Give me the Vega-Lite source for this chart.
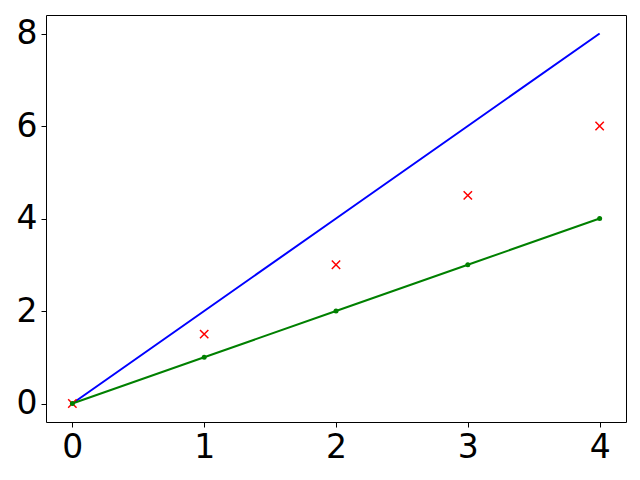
{
  "$schema": "https://vega.github.io/schema/vega-lite/v6.json",
  "width": 580,
  "height": 407,
  "autosize": {"type": "none"},
  "padding": {"left": 46, "top": 15, "right": 14, "bottom": 58},
  "background": "white",
  "config": {
    "view": {"stroke": "black", "strokeWidth": 1},
    "axis": {
      "grid": false,
      "domain": false,
      "tickColor": "black",
      "tickSize": 5,
      "tickWidth": 1,
      "labelColor": "black",
      "labelFont": "DejaVu Sans",
      "labelFontSize": 33,
      "labelPadding": 4,
      "title": null
    }
  },
  "data": {
    "values": [
      {"x": 0, "blue": 0, "red": 0, "green": 0},
      {"x": 1, "blue": 2, "red": 1.5, "green": 1},
      {"x": 2, "blue": 4, "red": 3, "green": 2},
      {"x": 3, "blue": 6, "red": 4.5, "green": 3},
      {"x": 4, "blue": 8, "red": 6, "green": 4}
    ]
  },
  "encoding": {
    "x": {
      "field": "x",
      "type": "quantitative",
      "scale": {"domain": [-0.2, 4.2], "nice": false, "zero": false},
      "axis": {"values": [0, 1, 2, 3, 4], "labelFlush": false}
    }
  },
  "layer": [
    {
      "mark": {"type": "line", "color": "blue", "strokeWidth": 2},
      "encoding": {
        "y": {
          "field": "blue",
          "type": "quantitative",
          "scale": {"domain": [-0.4, 8.4], "nice": false, "zero": false},
          "axis": {"values": [0, 2, 4, 6, 8], "labelFlush": false}
        }
      }
    },
    {
      "mark": {"type": "point", "shape": "M-1,-1L1,1M-1,1L1,-1", "filled": false, "color": "red", "strokeWidth": 1.5, "size": 70, "opacity": 1},
      "encoding": {"y": {"field": "red", "type": "quantitative"}}
    },
    {
      "mark": {"type": "line", "color": "green", "strokeWidth": 2, "point": {"filled": true, "color": "green", "size": 25, "opacity": 1}},
      "encoding": {"y": {"field": "green", "type": "quantitative"}}
    }
  ]
}
